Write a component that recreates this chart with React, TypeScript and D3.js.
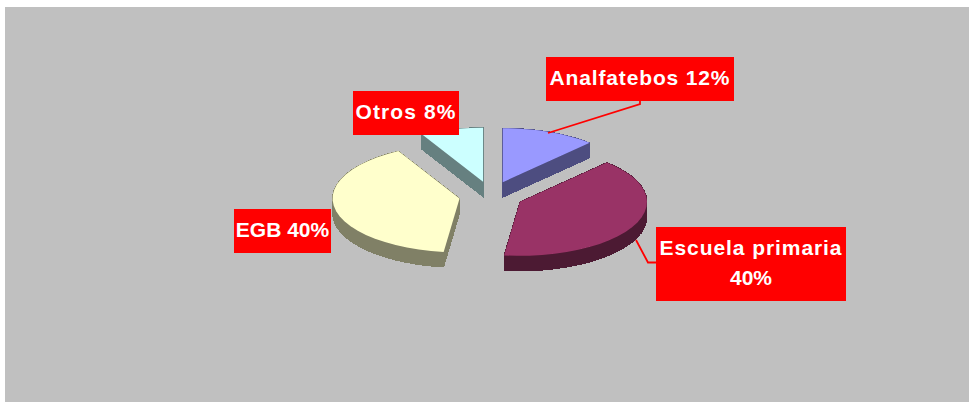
import React from "react";
import * as d3 from "d3";

const categories = ["Analfatebos", "Escuela primaria", "EGB", "Otros"];
const values = [12, 40, 40, 8];
const topColors = ["#9999FF", "#993366", "#FFFFCC", "#CCFFFF"];
const sideColors = ["#4D4D80", "#4C1A33", "#808066", "#668080"];
const labelLines = [["Analfatebos 12%"], ["Escuela primaria", "40%"], ["EGB 40%"], ["Otros 8%"]];
const labelBoxes = [
  { x: 546, y: 57, w: 188, h: 44, ls: [0.85] },
  { x: 656, y: 227, w: 190, h: 74, ls: [0.93, 0] },
  { x: 234, y: 209, w: 97, h: 44, ls: [0] },
  { x: 353, y: 91, w: 106, h: 44, ls: [1.1] },
];
const leaders = [
  [[548, 133], [640, 104], [640, 101]],
  [[636, 240], [648, 262.5], [656, 262.5]],
];

const W = 969, H = 402;
const cx = 491, cy = 195.7, rx = 127, ry = 54, ex = 32, ey = 14.5, depth = 15;

export default function App() {
  const pie = d3.pie<number>().sort(null)(values);
  const line = d3.line();
  const slices = pie.map((s, i) => {
    const mid = (s.startAngle + s.endAngle) / 2;
    const c: [number, number] = [cx + ex * Math.sin(mid), cy - ey * Math.cos(mid)];
    const n = Math.max(4, Math.round((s.endAngle - s.startAngle) / 0.1));
    const pts: [number, number][] = [c];
    d3.range(n + 1).forEach((k) => {
      const a = s.startAngle + ((s.endAngle - s.startAngle) * k) / n;
      pts.push([c[0] + rx * Math.sin(a), c[1] - ry * Math.cos(a)]);
    });
    return { pts, i };
  });
  return (
    <svg width={W} height={H} style={{ position: "absolute", left: 0, top: 0 }}>
      <rect x={5} y={7} width={W - 5} height={H - 7} fill="#C0C0C0" />
      {slices.map(({ pts, i }) => (
        <g key={categories[i]}>
          {pts.map((p, k) => {
            const q = pts[(k + 1) % pts.length];
            const quad: [number, number][] = [p, q, [q[0], q[1] + depth], [p[0], p[1] + depth]];
            return (
              <path
                key={k}
                d={line(quad) + "Z"}
                fill={sideColors[i]}
                stroke={sideColors[i]}
                strokeWidth={1}
                shapeRendering="crispEdges"
              />
            );
          })}
          <path d={line(pts) + "Z"} fill={topColors[i]} />
        </g>
      ))}
      {leaders.map((l, i) => (
        <path key={i} d={line(l as [number, number][]) ?? ""} fill="none" stroke="#FF0000" strokeWidth={1.8} />
      ))}
      {labelBoxes.map((b, i) => {
        const lines = labelLines[i];
        return (
          <g key={i}>
            <rect x={b.x} y={b.y} width={b.w} height={b.h} fill="#FF0000" />
            {lines.map((t, j) => (
              <text
                key={j}
                x={b.x + b.w / 2}
                y={b.y + 28 + j * 30}
                textAnchor="middle"
                fontFamily="'Liberation Sans', Arial, sans-serif"
                fontWeight="bold"
                fontSize={21}
                letterSpacing={b.ls[j]}
                fill="#FFFFFF"
              >
                {t}
              </text>
            ))}
          </g>
        );
      })}
    </svg>
  );
}
